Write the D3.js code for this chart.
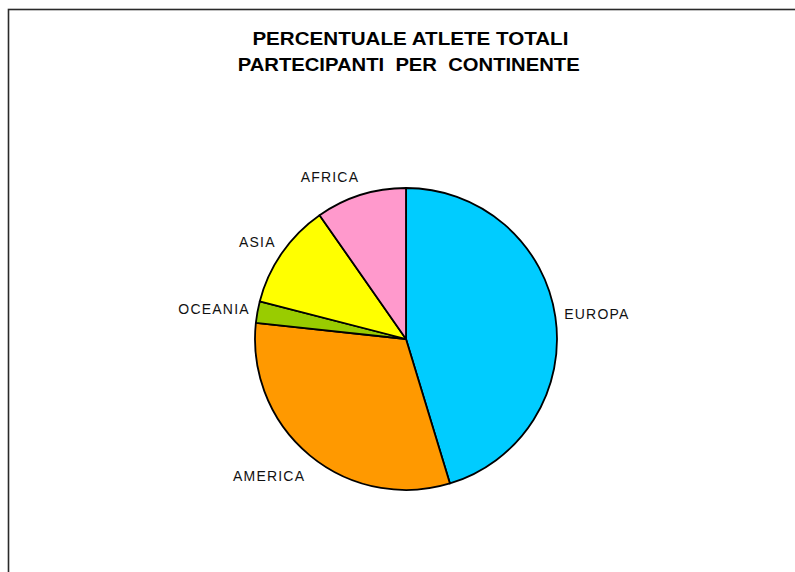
<!DOCTYPE html>
<html>
<head>
<meta charset="utf-8">
<script src="https://cdn.jsdelivr.net/npm/d3@7/dist/d3.min.js"></script>
<style>
  html, body { margin: 0; padding: 0; background: #fff; }
  svg { display: block; }
  text { font-family: "Liberation Sans", Arial, sans-serif; }
</style>
</head>
<body>
<svg id="chart" width="795" height="572"></svg>
<script>
const categories = ["EUROPA", "AMERICA", "OCEANIA", "ASIA", "AFRICA"];
const values = [45.3, 31.4, 2.3, 11.3, 9.7];
const colors = ["#00CCFF", "#FF9900", "#99CC00", "#FFFF00", "#FF99CC"];
const titleLines = ["PERCENTUALE ATLETE TOTALI", "PARTECIPANTI  PER  CONTINENTE"];

const svg = d3.select("#chart");
const W = 795, H = 572;

// frame
svg.append("rect")
  .attr("x", 8.5).attr("y", 9.5)
  .attr("width", 820).attr("height", 620)
  .attr("fill", "#fff")
  .attr("stroke", "#2a2a2a")
  .attr("stroke-width", 1.6);

// title
const titleCfg = [{y: 45, len: 316, cx: 410.4}, {y: 70.5, len: 342, cx: 408.7}];
titleLines.forEach((t, i) => {
  svg.append("text")
    .attr("x", titleCfg[i].cx).attr("y", titleCfg[i].y)
    .attr("text-anchor", "middle")
    .attr("font-size", 17.5)
    .attr("font-weight", "bold")
    .attr("fill", "#000")
    .attr("textLength", titleCfg[i].len)
    .attr("lengthAdjust", "spacingAndGlyphs")
    .style("white-space", "pre")
    .text(t);
});

const cx = 406, cy = 339, r = 151;
const data = categories.map((c, i) => ({name: c, value: values[i], color: colors[i]}));
const pie = d3.pie().sort(null).value(d => d.value);
const arcs = pie(data);
const arc = d3.arc().innerRadius(0).outerRadius(r);

const g = svg.append("g").attr("transform", `translate(${cx},${cy})`);
g.selectAll("path")
  .data(arcs)
  .join("path")
  .attr("d", arc)
  .attr("fill", d => d.data.color)
  .attr("stroke", "#000")
  .attr("stroke-width", 1.8)
  .attr("stroke-linejoin", "round");

// labels
const lr = r + 9;
g.selectAll("text.lbl")
  .data(arcs)
  .join("text")
  .attr("class", "lbl")
  .each(function(d) {
    const a = (d.startAngle + d.endAngle) / 2;
    const s = Math.sin(a), c = Math.cos(a);
    const px = lr * s, py = -lr * c;
    const dy = c > 0 ? -c * 9.6 : -c * 18;
    d3.select(this)
      .attr("x", px + (s > 0 ? 0 : 1.2))
      .attr("y", py + dy)
      .attr("dy", "0.36em")
      .attr("text-anchor", s > 0 ? "start" : "end");
  })
  .attr("font-size", 14)
  .attr("letter-spacing", 1.2)
  .attr("fill", "#111")
  .text(d => d.data.name);
</script>
</body>
</html>
